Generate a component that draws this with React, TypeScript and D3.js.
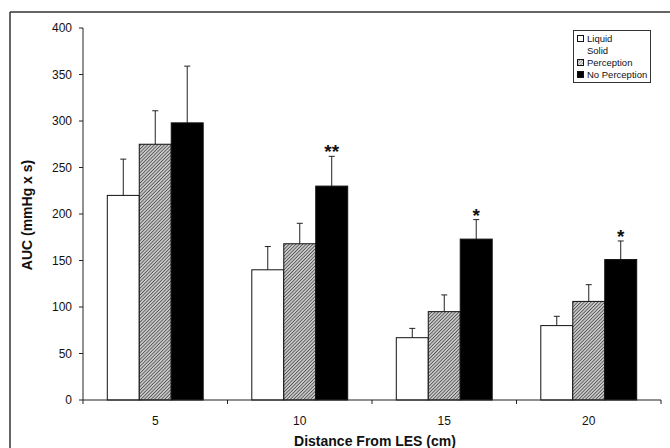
import React from "react";
import * as d3 from "d3";

const categories = ["5", "10", "15", "20"];
const seriesNames = ["Liquid", "Perception", "No Perception"];
const liquidValues = [220, 140, 67, 80];
const liquidErrors = [39, 25, 10, 10];
const perceptionValues = [275, 168, 95, 106];
const perceptionErrors = [36, 22, 18, 18];
const noPerceptionValues = [298, 230, 173, 151];
const noPerceptionErrors = [61, 32, 21, 20];
const significance = ["", "**", "*", "*"];
const yTicks = [0, 50, 100, 150, 200, 250, 300, 350, 400];
const legendLabels = ["Liquid", "Solid", "Perception", "No Perception"];

const W = 670;
const H = 448;
const font = "'Liberation Sans', Arial, sans-serif";

export default function App() {
  const x0 = d3.scaleBand<string>().domain(categories).range([83, 661]).paddingInner(0).paddingOuter(0);
  const x1 = d3.scaleBand<string>().domain(seriesNames).range([0, x0.bandwidth()]).paddingInner(0).paddingOuter(0.76);
  const y = d3.scaleLinear().domain([0, 400]).range([400, 28]);

  const series = [
    { name: "Liquid", values: liquidValues, errors: liquidErrors, fill: "#ffffff" },
    { name: "Perception", values: perceptionValues, errors: perceptionErrors, fill: "url(#hatch)" },
    { name: "No Perception", values: noPerceptionValues, errors: noPerceptionErrors, fill: "#000000" },
  ];

  const bw = x1.bandwidth();
  const boundaries = categories.map((c) => x0(c)!).concat([x0.range()[1]]);

  const legendFills = ["#ffffff", null, "url(#hatchSmall)", "#000000"];

  return (
    <svg width={W} height={H} style={{ position: "absolute", left: 0, top: 0, background: "#fff" }} fontFamily={font}>
      <defs>
        <pattern id="hatch" patternUnits="userSpaceOnUse" width="2.4" height="2.4" patternTransform="rotate(45)">
          <rect width="2.4" height="2.4" fill="#c8c8c8" />
          <line x1="0" y1="0" x2="0" y2="2.4" stroke="#2a2a2a" strokeWidth="1.2" />
        </pattern>
        <pattern id="hatchSmall" patternUnits="userSpaceOnUse" width="2" height="2" patternTransform="rotate(45)">
          <rect width="2" height="2" fill="#ffffff" />
          <line x1="0" y1="0" x2="0" y2="2" stroke="#222" strokeWidth="1" />
        </pattern>
      </defs>
      <rect x={0} y={0} width={W} height={H} fill="#fff" />
      {/* frame */}
      <line x1={10} y1={12} x2={W} y2={12} stroke="#333" strokeWidth={1.5} />
      <line x1={10} y1={12} x2={10} y2={H} stroke="#333" strokeWidth={1.5} />

      {/* bars */}
      {series.map((s) =>
        categories.map((c, i) => {
          const bx = x0(c)! + x1(s.name)!;
          const top = y(s.values[i]);
          const errTop = y(s.values[i] + s.errors[i]);
          const cx = bx + bw / 2;
          return (
            <g key={s.name + c}>
              <line x1={cx} x2={cx} y1={top} y2={errTop} stroke="#222" strokeWidth={1} />
              <line x1={cx - 3} x2={cx + 3} y1={errTop} y2={errTop} stroke="#222" strokeWidth={1} />
              <rect x={bx} y={top} width={bw} height={y(0) - top} fill={s.fill} stroke="#111" strokeWidth={1} />
            </g>
          );
        })
      )}

      {/* significance markers */}
      {categories.map((c, i) => {
        if (!significance[i]) return null;
        const s = series[2];
        const cx = x0(c)! + x1(s.name)! + bw / 2;
        const errTop = y(s.values[i] + s.errors[i]);
        return (
          <text key={"sig" + c} x={cx} y={errTop + 2} textAnchor="middle" fontSize={19} fontWeight="bold" fill="#111">
            {significance[i]}
          </text>
        );
      })}

      {/* y axis */}
      <line x1={83} x2={83} y1={y(400)} y2={y(0)} stroke="#222" strokeWidth={1} />
      {yTicks.map((t) => (
        <g key={"yt" + t}>
          <line x1={79} x2={83} y1={y(t)} y2={y(t)} stroke="#222" strokeWidth={1} />
          <text x={72} y={y(t)} dy="0.35em" textAnchor="end" fontSize={12} fill="#111">
            {t}
          </text>
        </g>
      ))}

      {/* x axis */}
      <line x1={83} x2={x0.range()[1]} y1={y(0)} y2={y(0)} stroke="#222" strokeWidth={1} />
      {boundaries.map((bx, i) => (
        <line key={"xt" + i} x1={bx} x2={bx} y1={y(0)} y2={y(0) + 4} stroke="#222" strokeWidth={1} />
      ))}
      {categories.map((c) => (
        <text key={"xl" + c} x={x0(c)! + x0.bandwidth() / 2} y={425} textAnchor="middle" fontSize={12} fill="#111">
          {c}
        </text>
      ))}

      {/* axis titles */}
      <text x={375} y={446} textAnchor="middle" fontSize={14} fontWeight="bold" fill="#111">
        Distance From LES (cm)
      </text>
      <text transform={`translate(32,215) rotate(-90)`} textAnchor="middle" fontSize={14} fontWeight="bold" fill="#111">
        AUC (mmHg x s)
      </text>

      {/* legend */}
      <rect x={573.5} y={30.5} width={77} height={52} fill="#fff" stroke="#333" strokeWidth={1} />
      {legendLabels.map((l, i) => {
        const ly = 38.5 + i * 12;
        const f = legendFills[i];
        return (
          <g key={"lg" + l}>
            {f && <rect x={577.5} y={ly - 3} width={6} height={6} fill={f} stroke="#111" strokeWidth={1} />}
            <text x={587} y={ly} dy="0.35em" fontSize={9.5} fill="#111">
              {l}
            </text>
          </g>
        );
      })}
    </svg>
  );
}
